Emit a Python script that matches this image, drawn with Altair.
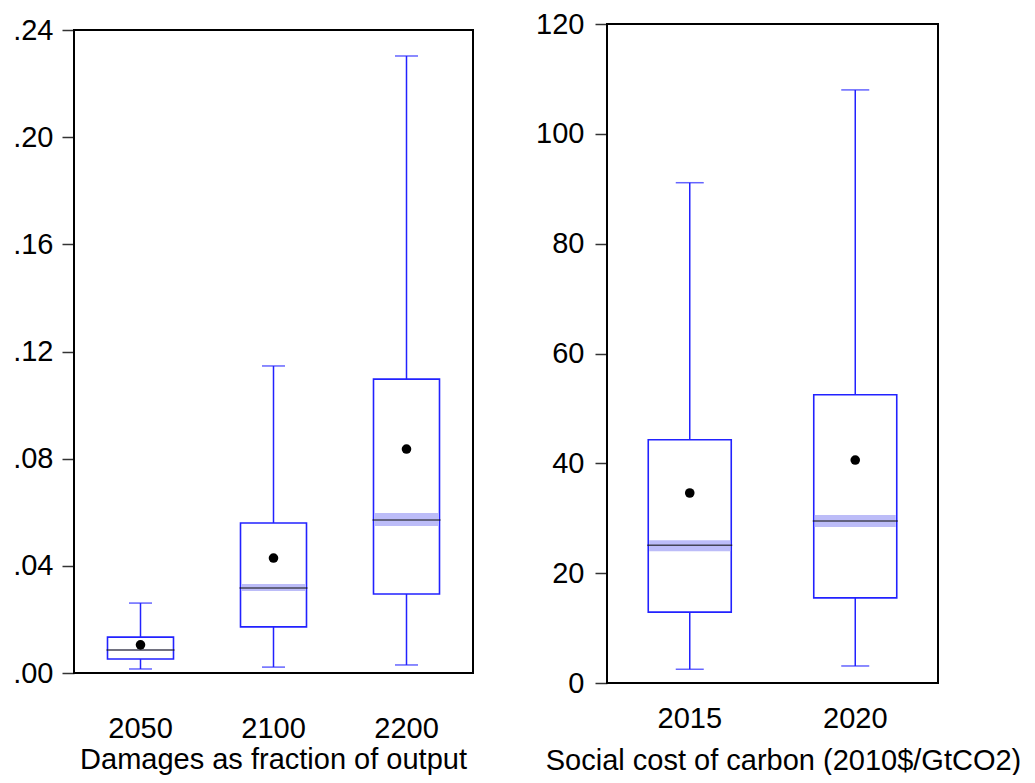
import altair as alt
import pandas as pd

# ---------------- data ----------------
left_cats = ["2050", "2100", "2200"]
left_wlo = [0.0015, 0.0022, 0.0030]
left_q1 = [0.0052, 0.0172, 0.0295]
left_med = [0.0086, 0.0317, 0.0571]
left_q3 = [0.0134, 0.0560, 0.1097]
left_whi = [0.0261, 0.1146, 0.2303]
left_mean = [0.0105, 0.0429, 0.0836]
left_band_lo = [0.0084, 0.0306, 0.0549]
left_band_hi = [0.0088, 0.0332, 0.0597]
left_ticks = [0.0, 0.04, 0.08, 0.12, 0.16, 0.20, 0.24]

right_cats = ["2015", "2020"]
right_wlo = [2.5, 3.1]
right_q1 = [12.9, 15.5]
right_med = [25.1, 29.5]
right_q3 = [44.3, 52.5]
right_whi = [91.1, 108.0]
right_mean = [34.6, 40.6]
right_band_lo = [24.0, 28.4]
right_band_hi = [26.0, 30.6]
right_ticks = [0, 20, 40, 60, 80, 100, 120]

FONT = "Liberation Sans"
BLUE = "#2222ff"
BAND = "#bcbcf8"
FS = 29


def panel(cats, wlo, q1, med, q3, whi, mean, blo, bhi, ymin, ymax, yticks,
          yrange, width, height, box_w, cap_w, label_expr, ylabel_pad,
          xlabel_pad, xtitle, title_pad, title_x):
    df = pd.DataFrame(dict(cat=cats, wlo=wlo, q1=q1, med=med, q3=q3,
                           whi=whi, mean=mean, blo=blo, bhi=bhi))
    base = alt.Chart(df)
    if yrange is not None:
        yscale = alt.Scale(domain=[ymin, ymax], nice=False, zero=False, range=yrange)
    else:
        yscale = alt.Scale(domain=[ymin, ymax], nice=False, zero=False)
    yaxis_kw = dict(values=yticks, title=None, domain=False, grid=False,
                    ticks=True, tickSize=12, tickWidth=1.5, tickColor="#333333",
                    labelPadding=ylabel_pad, labelFontSize=FS, labelColor="black",
                    labelFont=FONT)
    if label_expr:
        yaxis_kw["labelExpr"] = label_expr
    yaxis = alt.Axis(**yaxis_kw)
    xaxis = alt.Axis(title=xtitle, labelAngle=0, ticks=False, tickSize=0,
                     domain=False, grid=False, labelPadding=xlabel_pad,
                     labelFontSize=FS, labelFont=FONT, labelColor="black",
                     titleFont=FONT, titleFontSize=FS, titleFontWeight="normal",
                     titleColor="black", titlePadding=title_pad, titleX=title_x)
    xenc = alt.X("cat:N", sort=cats,
                 scale=alt.Scale(type="band", paddingInner=0, paddingOuter=0),
                 axis=xaxis)

    whisk = base.mark_rule(color=BLUE, strokeWidth=1.5).encode(
        x=xenc, y=alt.Y("wlo:Q", scale=yscale, axis=yaxis), y2="whi:Q")
    cap_hi = base.mark_tick(color=BLUE, size=cap_w, thickness=1.5,
                            orient="horizontal").encode(
        x=alt.X("cat:N", sort=cats), y="whi:Q")
    cap_lo = base.mark_tick(color=BLUE, size=cap_w, thickness=1.5,
                            orient="horizontal").encode(
        x=alt.X("cat:N", sort=cats), y="wlo:Q")
    box = base.mark_bar(size=box_w, fill="white", stroke=BLUE,
                        strokeWidth=1.6).encode(
        x=alt.X("cat:N", sort=cats), y="q1:Q", y2="q3:Q")
    band = base.mark_bar(size=box_w - 2, color=BAND).encode(
        x=alt.X("cat:N", sort=cats), y="blo:Q", y2="bhi:Q")
    median = base.mark_tick(color="#111111", size=box_w + 2, thickness=1.5,
                            orient="horizontal").encode(
        x=alt.X("cat:N", sort=cats), y="med:Q")
    dots = base.mark_point(filled=True, color="black", size=92,
                           opacity=1).encode(
        x=alt.X("cat:N", sort=cats), y="mean:Q")
    frame = alt.Chart(pd.DataFrame({"k": [0]})).mark_rect(
        fillOpacity=0, stroke="black", strokeWidth=2).encode(
        x=alt.value(0), x2=alt.value(width),
        y=alt.datum(ymax), y2=alt.datum(ymin))

    return alt.layer(whisk, cap_hi, cap_lo, box, band, median, dots,
                     frame).properties(width=width, height=height)


H = 659
left = panel(left_cats, left_wlo, left_q1, left_med, left_q3, left_whi,
             left_mean, left_band_lo, left_band_hi, 0.0, 0.24, left_ticks,
             [649, 6], 399, H, 66, 23,
             "replace(format(datum.value, '.2f'), '0.', '.')", 9,
             31, "Damages as fraction of output", 2, 199)
right = panel(right_cats, right_wlo, right_q1, right_med, right_q3,
              right_whi, right_mean, right_band_lo, right_band_hi, 0, 120,
              right_ticks, None, 331, H, 83, 28, None, 11,
              21, "Social cost of carbon (2010$/GtCO2)", 13, 176)

chart = alt.hconcat(left, right, spacing=134, bounds="flush").properties(
    padding={"left": 4, "top": 2, "right": 0, "bottom": 0},
    background="white"
).configure_view(strokeWidth=0, stroke="transparent")

chart.save("out.html", embed_options={"renderer": "svg", "actions": False})
